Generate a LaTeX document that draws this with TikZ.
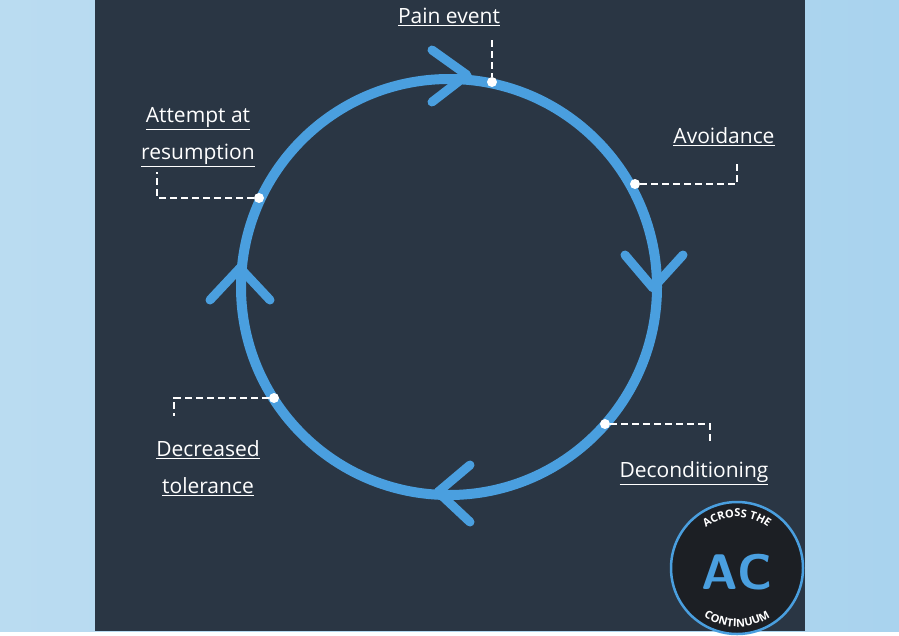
\documentclass[tikz,border=0pt]{standalone}
\usepackage{fontspec}
\setmainfont{Open Sans}
\usetikzlibrary{decorations.text}
\definecolor{panel}{HTML}{2A3644}
\definecolor{ring}{HTML}{4A9FDF}
\definecolor{side}{HTML}{A9D3EE}
\definecolor{logobg}{HTML}{1C1F24}
\tikzset{lbl/.style={text=white,font=\fontsize{21}{37}\selectfont,align=center,inner sep=0},
  lead/.style={white,line width=1.6pt,dash pattern=on 7pt off 4pt},
  dot/.style={circle,fill=white,inner sep=0,minimum size=10pt},
  chev/.style={ring,line width=9pt,line cap=round,line join=round}}
\newcommand{\ul}[1]{\underline{#1}}
\begin{document}
\begin{tikzpicture}[x=1pt,y=-1pt]
\shade[left color=side!80!white,right color=side] (0,0) rectangle (899,631);
\fill[panel] (95,0) rectangle (805,631);
\draw[ring,line width=10pt] (449,287) circle (208);
% chevrons
\draw[chev] (432,50) -- (467,75) -- (432,102);
\draw[chev] (625,255) -- (653,288) -- (683,255);
\draw[chev] (470,465) -- (438,492) -- (470,522);
\draw[chev] (210,300) -- (240,268) -- (270,300);
% dots
\node[dot] (p) at (492,82) {};
\node[dot] (a) at (635,184) {};
\node[dot] (d) at (605,424) {};
\node[dot] (t) at (274,398) {};
\node[dot] (r) at (259,198) {};
% labels
\node[lbl] (lp) at (449,17) {\ul{Pain event}};
\node[lbl] (la) at (724,137) {\ul{Avoidance}};
\node[lbl] (lr) at (198,137) {\ul{Attempt at}\\\ul{resumption}};
\node[lbl] (ld) at (694,473) {\ul{Deconditioning}};
\node[lbl] (lt) at (208,468) {\ul{Decreased}\\\ul{tolerance}};
\coordinate (ca) at (737,184);
\coordinate (cd) at (710,424);
\coordinate (ct) at (174,398);
\coordinate (cr) at (157,198);
\draw[lead] (492,40) -- (p);
\draw[lead] (a) -- (ca) -- (737,160);
\draw[lead] (d) -- (cd) -- (710,442);
\draw[lead] (t) -- (ct) -- (174,416);
\draw[lead] (r) -- (cr) -- (157,172);
% logo
\node[circle,draw=ring,line width=2.5pt,fill=logobg,minimum size=132pt] (logo) at (737,568) {};
\node[text=ring,font=\fontsize{50}{50}\selectfont\bfseries\sffamily] (ac) at (737,572) {AC};
\path[decorate,decoration={text along path,text align=center,
  text={|\color{white}\fontsize{11}{11}\selectfont\bfseries|ACROSS THE}}]
  (686,568) arc[start angle=180,end angle=360,radius=51];
\path[decorate,decoration={text along path,text align=center,
  text={|\color{white}\fontsize{11}{11}\selectfont\bfseries|CONTINUUM}}]
  (678,568) arc[start angle=180,end angle=0,radius=59];
\end{tikzpicture}
\end{document}
